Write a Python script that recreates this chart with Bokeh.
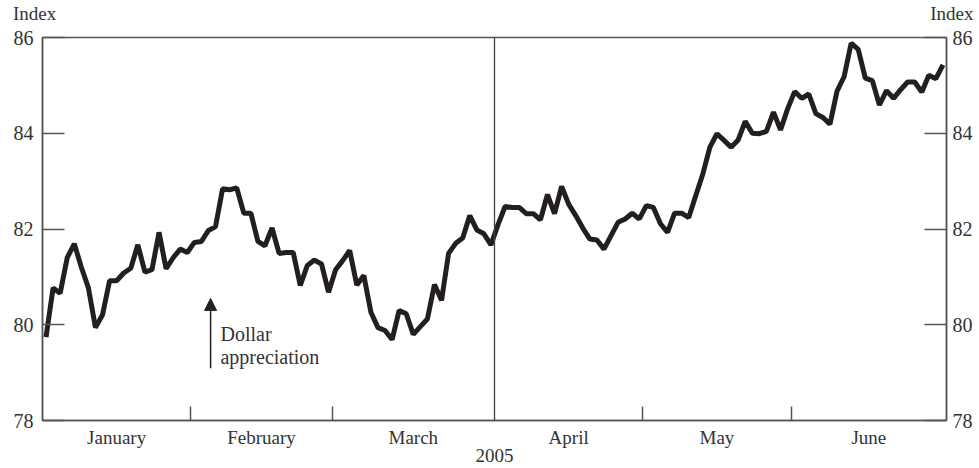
import numpy as np
from bokeh.plotting import figure
from bokeh.layouts import column
from bokeh.models import Range1d, LinearAxis, FixedTicker, Label, Arrow, NormalHead, Span
from bokeh.embed import file_html
from bokeh.resources import INLINE

# ---- data -------------------------------------------------------------
months = ["January", "February", "March", "April", "May", "June"]
trading_days = [21, 20, 23, 21, 21, 22]
year_label = "2005"
y_ticks = [78, 80, 82, 84, 86]

jan_vals = [79.74, 80.77, 80.66, 81.40, 81.69, 81.20, 80.77, 79.94, 80.21, 80.92,
            80.92, 81.08, 81.18, 81.67, 81.10, 81.15, 81.93, 81.17, 81.40, 81.58, 81.51]
feb_vals = [81.72, 81.74, 81.97, 82.05, 82.84, 82.82, 82.86, 82.33, 82.33, 81.74,
            81.65, 82.02, 81.49, 81.51, 81.51, 80.82, 81.24, 81.35, 81.27, 80.68]
mar_vals = [81.15, 81.34, 81.55, 80.83, 81.03, 80.26, 79.94, 79.88, 79.69, 80.30,
            80.23, 79.80, 79.96, 80.12, 80.84, 80.51, 81.49, 81.70, 81.81, 82.28,
            81.98, 81.90, 81.67]
apr_vals = [82.09, 82.47, 82.45, 82.45, 82.32, 82.32, 82.19, 82.72, 82.32, 82.89,
            82.52, 82.28, 82.02, 81.79, 81.77, 81.58, 81.86, 82.14, 82.21, 82.33, 82.21]
may_vals = [82.49, 82.45, 82.11, 81.93, 82.33, 82.33, 82.24, 82.70, 83.15, 83.71,
            83.99, 83.85, 83.71, 83.86, 84.25, 84.00, 83.99, 84.04, 84.44, 84.07, 84.51]
jun_vals = [84.87, 84.73, 84.82, 84.41, 84.33, 84.19, 84.88, 85.18, 85.88, 85.75,
            85.15, 85.10, 84.59, 84.89, 84.73, 84.91, 85.07, 85.07, 84.86, 85.21,
            85.14, 85.43]

annotation_lines = ["Dollar", "appreciation"]
axis_title = "Index"

# ---- derived ------------------------------------------------------------
values = jan_vals + feb_vals + mar_vals + apr_vals + may_vals + jun_vals
x = np.arange(len(values))

bounds = [-0.5]
for n in trading_days:
    bounds.append(bounds[-1] + n)
centers = [(bounds[i] + bounds[i + 1]) / 2 for i in range(len(months))]
split_at = bounds[3]
inner_bounds = [b for b in bounds[1:-1] if b != split_at]


def key(c):
    return int(c) if float(c).is_integer() else c


overrides = {key(c): m for c, m in zip(centers, months)}
center_ticks = [key(c) for c in centers]

FONT = "Liberation Serif"
TXT = "#333333"
AX = "#555555"
FS = "19px"
W = 979
HEAD_H = 26
MAIN_TOP = 11

# ---- header with the two "Index" labels ---------------------------------
head = figure(width=W, height=HEAD_H, output_backend="svg", toolbar_location=None,
              x_range=Range1d(0, W), y_range=Range1d(0, HEAD_H),
              x_axis_location=None, y_axis_location=None,
              min_border=0, min_border_left=0, min_border_right=0,
              min_border_top=0, min_border_bottom=0)
head.outline_line_color = None
head.xgrid.visible = False
head.ygrid.visible = False
head.add_layout(Label(x=12.5, y=13, text=axis_title, text_font=FONT,
                      text_font_size=FS, text_color=TXT, text_baseline="alphabetic",
                      text_align="left"))
head.add_layout(Label(x=W - 6, y=13, text=axis_title, text_font=FONT,
                      text_font_size=FS, text_color=TXT, text_baseline="alphabetic",
                      text_align="right"))

# ---- main chart -----------------------------------------------------------
p = figure(width=W, height=468 - HEAD_H, output_backend="svg", toolbar_location=None,
           x_range=Range1d(bounds[0], bounds[-1]), y_range=Range1d(78, 86),
           x_axis_location=None, y_axis_location=None,
           min_border_left=42, min_border_right=33, min_border_top=MAIN_TOP,
           min_border_bottom=468 - HEAD_H - MAIN_TOP - 383)
p.background_fill_color = "white"
p.border_fill_color = "white"
p.outline_line_color = AX
p.outline_line_width = 1.5
p.xgrid.visible = False
p.ygrid.visible = False

for fig in (head, p):
    try:
        fig.frame_align = False
    except Exception:
        pass


def style_y(ax, standoff):
    ax.ticker = FixedTicker(ticks=y_ticks)
    ax.major_tick_in = 22
    ax.major_tick_out = 0
    ax.minor_tick_in = 0
    ax.minor_tick_out = 0
    ax.axis_line_color = AX
    ax.axis_line_width = 1.5
    ax.major_tick_line_color = AX
    ax.major_tick_line_width = 1.5
    ax.major_label_text_font = FONT
    ax.major_label_text_font_size = "20px"
    ax.major_label_text_color = TXT
    ax.major_label_standoff = standoff


left = LinearAxis()
style_y(left, 9)
p.add_layout(left, "left")
right = LinearAxis()
style_y(right, 6)
p.add_layout(right, "right")

xa = LinearAxis(ticker=FixedTicker(ticks=center_ticks, minor_ticks=inner_bounds),
                major_label_overrides=overrides, axis_label=year_label)
xa.major_tick_in = 0
xa.major_tick_out = 0
xa.minor_tick_in = 14
xa.minor_tick_out = 0
xa.minor_tick_line_color = AX
xa.minor_tick_line_width = 1.5
xa.axis_line_color = AX
xa.axis_line_width = 1.5
xa.major_label_text_font = FONT
xa.major_label_text_font_size = FS
xa.major_label_text_color = TXT
xa.major_label_standoff = 6
xa.axis_label_text_font = FONT
xa.axis_label_text_font_size = FS
xa.axis_label_text_font_style = "normal"
xa.axis_label_text_color = TXT
xa.axis_label_standoff = -2
p.add_layout(xa, "below")

p.add_layout(Span(location=split_at, dimension="height", line_color="#444444", line_width=1.3))

p.line(x, values, line_color="#231f20", line_width=5)

arrow_x = 23.3
p.add_layout(Arrow(end=NormalHead(size=12, fill_color="#231f20", line_color="#231f20"),
                   x_start=arrow_x, y_start=79.09, x_end=arrow_x, y_end=80.55,
                   line_color="#231f20", line_width=1.5))
for i, t in enumerate(annotation_lines):
    p.add_layout(Label(x=24.7, y=79.81 - i * 0.49, text=t, text_font=FONT,
                       text_font_size="20px", text_color=TXT, text_baseline="alphabetic"))

layout = column(head, p, spacing=0)
open("out.html", "w").write(file_html(layout, INLINE))
